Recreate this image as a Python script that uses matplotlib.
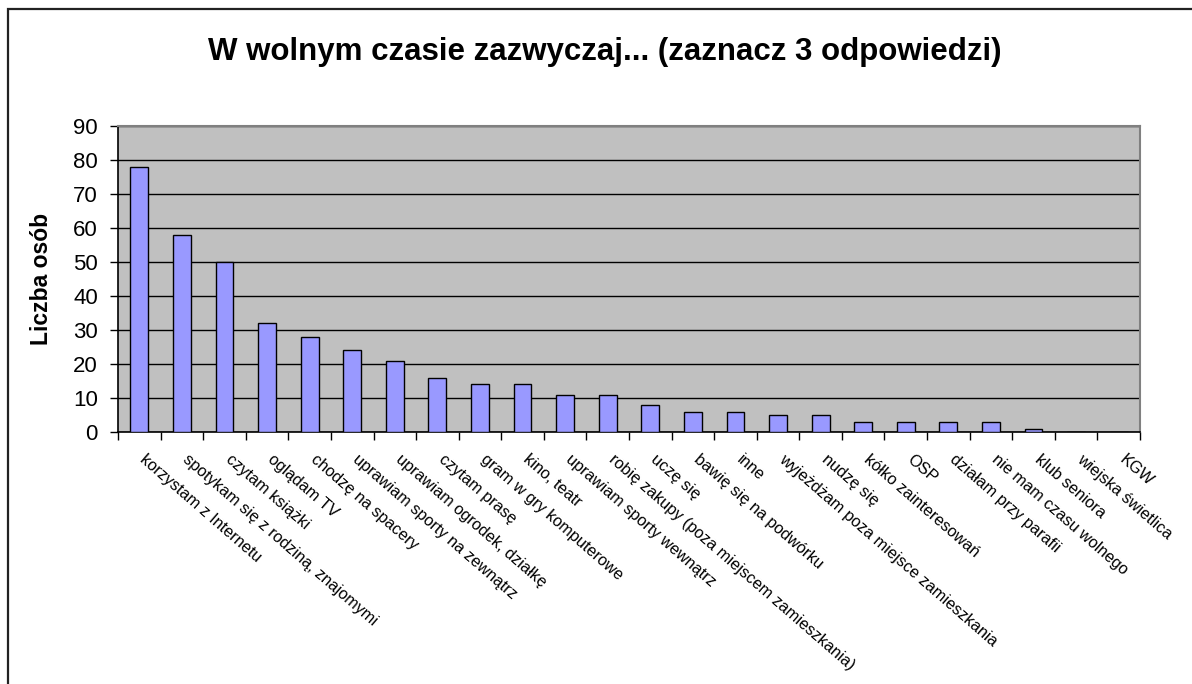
import numpy as np
import matplotlib.pyplot as plt
from matplotlib.patches import Rectangle
from matplotlib.transforms import ScaledTranslation

plt.rcParams['font.family'] = ['Liberation Sans', 'DejaVu Sans']

categories = [
    "korzystam z Internetu",
    "spotykam się z rodziną, znajomymi",
    "czytam książki",
    "oglądam TV",
    "chodzę na spacery",
    "uprawiam sporty na zewnątrz",
    "uprawiam ogrodek, działkę",
    "czytam prasę",
    "gram w gry komputerowe",
    "kino, teatr",
    "uprawiam sporty wewnątrz",
    "robię zakupy (poza miejscem zamieszkania)",
    "uczę się",
    "bawię się na podwórku",
    "inne",
    "wyjeżdżam poza miejsce zamieszkania",
    "nudzę się",
    "kółko zainteresowań",
    "OSP",
    "działam przy parafii",
    "nie mam czasu wolnego",
    "klub seniora",
    "wiejska świetlica",
    "KGW",
]
values = [78, 58, 50, 32, 28, 24, 21, 16, 14, 14, 11, 11, 8, 6, 6, 5, 5, 3, 3, 3, 3, 1, 0, 0]
yticks = list(range(0, 91, 10))

fig = plt.figure(figsize=(11.92, 6.84), dpi=100)
ax = fig.add_axes([118 / 1192, 1 - 432 / 684, (1140 - 118) / 1192, (432 - 126) / 684])

# ramka wokół całego wykresu
fig.patches.append(Rectangle((8 / 1192, -0.1), 1.2, 1 - 9 / 684 + 0.1,
                             transform=fig.transFigure, fill=False,
                             edgecolor='#222222', linewidth=1.6))

x = np.arange(len(categories))
ax.set_facecolor('#C0C0C0')
ax.set_axisbelow(True)
ax.yaxis.grid(True, color='black', linewidth=1.0)
ax.bar(x, values, width=0.42, color='#9999FF', edgecolor='black', linewidth=1.0, zorder=3)

ax.set_xlim(-0.5, len(categories) - 0.5)
ax.set_ylim(0, 90)
ax.set_yticks(yticks)
ax.tick_params(axis='y', labelsize=16, length=6, width=1, direction='out', pad=8.5)

ax.set_xticks(x)
ax.set_xticklabels(categories, rotation=-41, ha='left', va='top',
                   rotation_mode='anchor', fontsize=11.7)
ax.tick_params(axis='x', which='major', length=0, pad=14)
off = ScaledTranslation(8 / 100, 0, fig.dpi_scale_trans)
for lab in ax.get_xticklabels():
    lab.set_transform(lab.get_transform() + off)
ax.set_xticks(np.arange(-0.5, len(categories)), minor=True)
ax.tick_params(axis='x', which='minor', length=6, width=1, direction='out')

for s in ['left', 'bottom']:
    ax.spines[s].set_color('black')
    ax.spines[s].set_linewidth(1.2)
for s in ['top', 'right']:
    ax.spines[s].set_color('#808080')
    ax.spines[s].set_linewidth(1.5)

ax.set_ylabel("Liczba osób", fontsize=16.5, fontweight='bold')
ax.yaxis.set_label_coords((42 - 118) / 1022, 0.5)
ax.yaxis.label.set_va('center')
fig.text(0.507, 1 - 52 / 684, "W wolnym czasie zazwyczaj... (zaznacz 3 odpowiedzi)",
         ha='center', va='center', fontsize=22.5, fontweight='bold')

fig.savefig("out.png", dpi=100)
